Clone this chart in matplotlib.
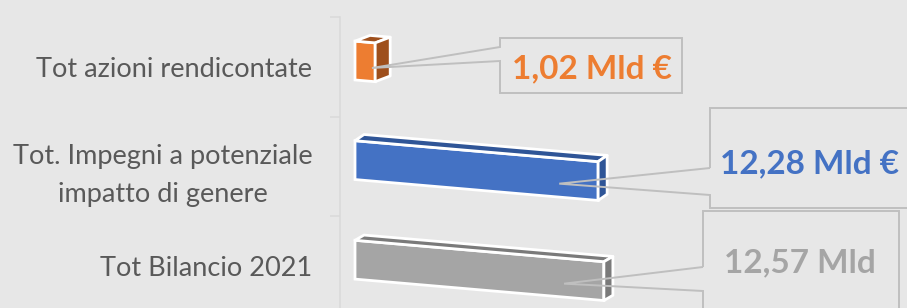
import math
import matplotlib
matplotlib.use("Agg")
import matplotlib.pyplot as plt
from matplotlib.patches import Polygon
from matplotlib.transforms import Affine2D, IdentityTransform

# data, top to bottom
categories = ["Tot azioni rendicontate",
              "Tot. Impegni a potenziale\nimpatto di genere",
              "Tot Bilancio 2021"]
values = [1.02, 12.28, 12.57]
value_labels = ["1,02 Mld €", "12,28 Mld €", "12,57 Mld"]

# styles
front_colors = ["#ed7d31", "#4472c4", "#a5a5a5"]
dark_colors = ["#9e4f1c", "#2f5597", "#7a7a7a"]
depth_px = [(15, 7), (9, 7), (9, 6)]
bg = "#e7e7e7"
line_col = "#bfbfbf"

W, H = 907, 308
plt.rcParams["font.family"] = ["Lato", "DejaVu Sans"]

fig = plt.figure(figsize=(W / 100, H / 100), dpi=100, facecolor=bg)
ax = fig.add_axes([340 / W, 0, 1 - 340 / W, 1])
ax.set_facecolor(bg)
ax.set_xlim(-15 / 19.8, (W - 355) / 19.8)
ax.set_ylim(2.42, -0.673)

pos = list(range(len(values)))
ax.set_yticks(pos)
ax.set_yticklabels(categories, fontsize=19.5, color="#595959", multialignment="center")
for t in ax.get_yticklabels():
    t.set_linespacing(1.65)
ax.tick_params(axis="y", which="major", length=0, pad=20)
ax.set_yticks([-0.5, 0.5, 1.5], minor=True)
ax.tick_params(axis="y", which="minor", length=7, width=1.1, color="#d9d9d9", direction="out")
ax.set_xticks([])
for s in ["top", "right", "bottom"]:
    ax.spines[s].set_visible(False)
ax.spines["left"].set_color("#d9d9d9")
ax.spines["left"].set_linewidth(1.1)
ax.spines["left"].set_bounds(-0.5, 2.42)

# perspective-ish shear: bars slope down to the right
sx = ax.transData.transform((1, 0))[0] - ax.transData.transform((0, 0))[0]
sy = abs(ax.transData.transform((0, 1))[1] - ax.transData.transform((0, 0))[1])
shear = Affine2D().skew(0, math.atan(0.086 * sx / sy))
bar_tr = shear + ax.transData

bar_h = 0.39
bar_pos = [p - 0.065 for p in pos]
bars = ax.barh(bar_pos, values, height=bar_h, color=front_colors,
               edgecolor="white", linewidth=2, zorder=3)
for b in bars:
    b.set_transform(bar_tr)

for c, v, dk, (dx, dy) in zip(bar_pos, values, dark_colors, depth_px):
    ddx = dx / sx
    ddy = -dy / sy
    yt, yb = c - bar_h / 2, c + bar_h / 2
    top = Polygon([(0, yt), (v, yt), (v + ddx, yt + ddy), (ddx, yt + ddy)],
                  closed=True, facecolor=dk, edgecolor="white", lw=2,
                  transform=bar_tr, zorder=3, joinstyle="round")
    side = Polygon([(v, yt), (v + ddx, yt + ddy), (v + ddx, yb + ddy), (v, yb)],
                   closed=True, facecolor=dk, edgecolor="white", lw=2,
                   transform=bar_tr, zorder=3, joinstyle="round")
    ax.add_patch(top)
    ax.add_patch(side)

# callout boxes (pixel layout, origin top-left)
boxes = [(500, 38, 682, 93, 47, 61),
         (710, 108, 930, 208, 168, 195),
         (703, 211, 899, 330, 267, 291)]
text_pos = [(592, 78), (810, 173), (800, 272)]

for c, v, box, tp, lab, col in zip(bar_pos, values, boxes, text_pos,
                                   value_labels, front_colors):
    axp, ayp = bar_tr.transform((0.84 * v, c + 0.06))
    L, T, R, B, wt, wb = box
    pts = [(L, H - wt), (L, H - T), (R, H - T), (R, H - B), (L, H - B),
           (L, H - wb), (axp, ayp)]
    poly = Polygon(pts, closed=True, fill=False, edgecolor=line_col, lw=1.4,
                   transform=IdentityTransform(), zorder=5, clip_on=False)
    fig.patches.append(poly)
    fig.text(tp[0] / W, 1 - tp[1] / H, lab, ha="center", va="baseline",
             fontsize=24, fontweight="bold", color=col)

fig.savefig("out.png", dpi=100, facecolor=bg)
